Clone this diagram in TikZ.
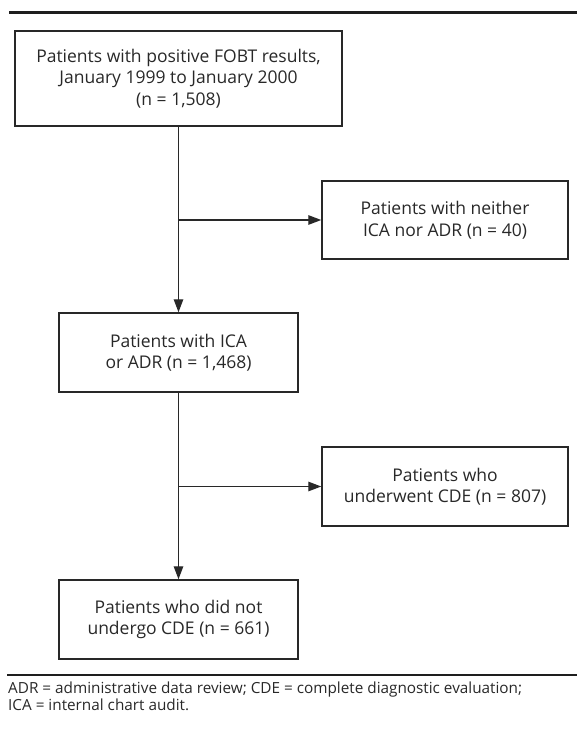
\documentclass[tikz,border=0pt]{standalone}
\usepackage{fontspec}
\setmainfont{Open Sans}
\usetikzlibrary{arrows.meta, positioning}
\definecolor{ink}{RGB}{40,40,40}
\definecolor{rule}{RGB}{30,30,30}

\begin{document}
\begin{tikzpicture}[
  x=1pt, y=-1pt,
  box/.style={rectangle, draw=ink, line width=1.5pt, text=ink, align=center,
    font=\fontsize{17.5}{21.5}\selectfont, inner sep=0pt},
  arrow/.style={-{Triangle[length=13pt, width=9.5pt]}, line width=1.4pt, draw=ink}
]
\useasboundingbox (0,0) rectangle (581,733);

\draw[rule, line width=3.5pt] (9,12.5) -- (577,12.5);

\node[box, minimum width=327pt, minimum height=95pt] (fobt) at (178.5,78.5)
  {Patients with positive FOBT results,\\January 1999 to January 2000\\(n = 1,508)};
\node[box, minimum width=246pt, minimum height=78pt] (neither) at (445,220)
  {Patients with neither\\ICA nor ADR (n = 40)};
\node[box, minimum width=239pt, minimum height=79pt] (icaadr) at (178.5,352.5)
  {Patients with ICA\\or ADR (n = 1,468)};
\node[box, minimum width=246pt, minimum height=79pt] (cde) at (445,486.5)
  {Patients who\\underwent CDE (n = 807)};
\node[box, minimum width=239pt, minimum height=79pt] (nocde) at (178.5,619.5)
  {Patients who did not\\undergo CDE (n = 661)};

\coordinate (split1) at (fobt.south |- neither.west);
\coordinate (split2) at (icaadr.south |- cde.west);

\draw[arrow] (fobt.south) -- (icaadr.north);
\draw[arrow] (split1) -- (neither.west);
\draw[arrow] (icaadr.south) -- (nocde.north);
\draw[arrow] (split2) -- (cde.west);

% legend
\draw[rule, line width=1.3pt] (7,675) -- (577,675);
\node[anchor=north west, inner sep=0pt, text=ink, align=left,
  font=\fontsize{15.3}{16.5}\selectfont] (legend) at (8,682)
  {ADR = administrative data review; CDE = complete diagnostic evaluation;\\
   ICA = internal chart audit.};
\end{tikzpicture}
\end{document}
